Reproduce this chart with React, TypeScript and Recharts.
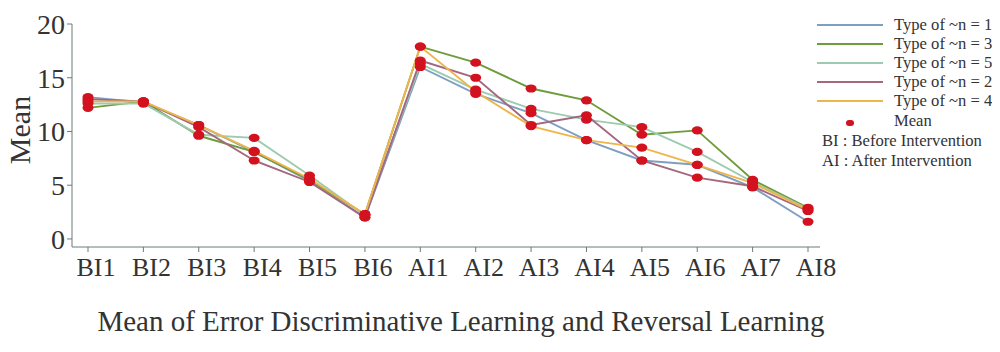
import React from "react";
import { LineChart, Line, XAxis, YAxis } from "recharts";

const categories = ["BI1", "BI2", "BI3", "BI4", "BI5", "BI6", "AI1", "AI2", "AI3", "AI4", "AI5", "AI6", "AI7", "AI8"];

// mean error per item, one list per type
const typeN1 = [13.2, 12.7, 10.6, 8.1, 5.4, 2.0, 16.0, 13.5, 11.7, 9.2, 7.3, 6.9, 4.8, 1.6];
const typeN3 = [12.2, 12.8, 9.6, 8.1, 5.5, 2.3, 17.9, 16.4, 14.0, 12.9, 9.7, 10.1, 5.5, 2.9];
const typeN5 = [12.6, 12.6, 9.7, 9.4, 5.9, 2.2, 16.3, 13.9, 12.1, 11.1, 10.4, 8.1, 5.3, 2.8];
const typeN2 = [13.0, 12.8, 10.4, 7.3, 5.3, 2.0, 16.6, 15.0, 10.6, 11.5, 7.3, 5.7, 4.9, 2.6];
const typeN4 = [12.8, 12.8, 10.6, 8.2, 5.6, 2.3, 17.9, 13.7, 10.5, 9.2, 8.5, 6.9, 5.2, 2.7];

const yTicks = [0, 5, 10, 15, 20];

const series = [
  { key: "n1", name: "Type of ~n = 1", color: "#7f9fc2", values: typeN1 },
  { key: "n3", name: "Type of ~n = 3", color: "#6e9c3c", values: typeN3 },
  { key: "n5", name: "Type of ~n = 5", color: "#9ccbb0", values: typeN5 },
  { key: "n2", name: "Type of ~n = 2", color: "#a4677f", values: typeN2 },
  { key: "n4", name: "Type of ~n = 4", color: "#eeb54a", values: typeN4 },
];

const data = categories.map((name, i) => {
  const row: Record<string, string | number> = { name };
  series.forEach((s) => (row[s.key] = s.values[i]));
  return row;
});

const FONT = "'Liberation Serif', 'DejaVu Serif', serif";
const DOT = "#d3121f";
const AXIS = "#6b7b7b";

function MeanDot(props: any) {
  const { cx, cy, index } = props;
  if (cx == null || cy == null) return <g key={index} />;
  return <ellipse key={index} cx={cx} cy={cy} rx={5.5} ry={4.1} fill={DOT} />;
}

function LegendBox() {
  const rowH = 19;
  return (
    <div
      style={{
        position: "absolute",
        left: 817,
        top: 15,
        fontFamily: FONT,
        fontSize: 16.6,
        color: "#333",
        lineHeight: `${rowH}px`,
        whiteSpace: "nowrap",
      }}
    >
      {series.map((s) => (
        <div key={s.key} style={{ display: "flex", alignItems: "center", height: rowH }}>
          <span style={{ display: "inline-block", width: 66, height: 2, background: s.color, marginRight: 11 }} />
          <span>{s.name}</span>
        </div>
      ))}
      <div style={{ display: "flex", alignItems: "center", height: rowH + 1 }}>
        <span style={{ display: "inline-block", width: 66, marginRight: 11, textAlign: "center" }}>
          <span style={{ display: "inline-block", width: 8, height: 6, borderRadius: 4, background: DOT }} />
        </span>
        <span>Mean</span>
      </div>
      <div style={{ marginTop: 1, marginLeft: 5, height: rowH + 1 }}>BI : Before Intervention</div>
      <div style={{ marginLeft: 5, height: rowH }}>AI : After Intervention</div>
    </div>
  );
}

export default function App() {
  return (
    <div style={{ margin: -8, width: 1000, height: 352, background: "#fff", position: "relative" }}>
      <LineChart width={1000} height={352} data={data} margin={{ top: 24, right: 180, bottom: 0, left: 0 }}>
        <XAxis
          dataKey="name"
          height={105}
          padding={{ left: 16, right: 12 }}
          stroke={AXIS}
          tickSize={5}
          tick={{ fontFamily: FONT, fontSize: 26, fill: "#333", dx: 8, dy: 4 }}
          interval={0}
          label={{
            content: () => (
              <text x={461} y={331} textAnchor="middle" fontFamily={FONT} fontSize={29} fill="#333">
                Mean of Error Discriminative Learning and Reversal Learning
              </text>
            ),
          }}
        />
        <YAxis
          width={72}
          domain={[-0.75, 20]}
          ticks={yTicks}
          allowDataOverflow
          stroke={AXIS}
          tickSize={5}
          tick={{ fontFamily: FONT, fontSize: 28, fill: "#333" }}
          label={{
            content: () => (
              <text x={30} y={130} transform="rotate(-90 30 130)" textAnchor="middle" fontFamily={FONT} fontSize={30} fill="#333">
                Mean
              </text>
            ),
          }}
        />
        {series.map((s) => (
          <Line
            key={s.key}
            type="linear"
            dataKey={s.key}
            name={s.name}
            stroke={s.color}
            strokeWidth={1.9}
            dot={MeanDot}
            activeDot={false}
            isAnimationActive={false}
          />
        ))}
      </LineChart>
      <LegendBox />
    </div>
  );
}
